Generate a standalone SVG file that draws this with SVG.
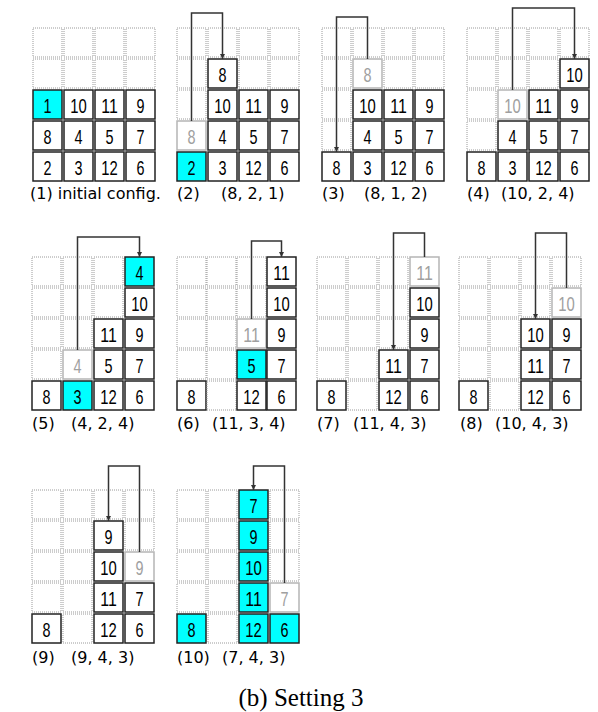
<svg xmlns="http://www.w3.org/2000/svg" width="598" height="712" viewBox="0 0 598 712">
<defs>
<marker id="ah" viewBox="0 0 10 10" refX="10" refY="5" markerWidth="5" markerHeight="6" markerUnits="userSpaceOnUse" orient="auto"><path d="M0,0 L10,5 L0,10 Z" fill="#333"/></marker>
<style>
.d{fill:none;stroke:#9a9a9a;stroke-width:1;stroke-dasharray:1,1}
.c{fill:#fff;stroke:#222;stroke-width:1.5}
.cy{fill:#00ffff;stroke:#222;stroke-width:1.5}
.g{fill:#fff;stroke:#b5b5b5;stroke-width:1.5}
.n{font-family:"Liberation Sans",Arial,sans-serif;font-size:21px;fill:#000;text-anchor:middle}
.ng{font-family:"Liberation Sans",Arial,sans-serif;font-size:21px;fill:#a0a0a0;text-anchor:middle}
.lb{font-family:"DejaVu Sans",sans-serif;font-size:16px;fill:#000}
.cap{font-family:"Liberation Serif","Times New Roman",serif;font-size:25px;fill:#000;text-anchor:middle}
.ar{fill:none;stroke:#333;stroke-width:1.5;marker-end:url(#ah)}
</style>
</defs>
<rect width="598" height="712" fill="#fff"/>

<!-- Panel 1 -->
<g id="p1">
<rect class="d" x="33" y="28" width="29" height="29"/><rect class="d" x="64" y="28" width="29" height="29"/><rect class="d" x="95" y="28" width="29" height="29"/><rect class="d" x="126" y="28" width="29" height="29"/>
<rect class="d" x="33" y="59" width="29" height="29"/><rect class="d" x="64" y="59" width="29" height="29"/><rect class="d" x="95" y="59" width="29" height="29"/><rect class="d" x="126" y="59" width="29" height="29"/>
<rect class="cy" x="33" y="90" width="29" height="29"/><rect class="c" x="64" y="90" width="29" height="29"/><rect class="c" x="95" y="90" width="29" height="29"/><rect class="c" x="126" y="90" width="29" height="29"/>
<rect class="c" x="33" y="121" width="29" height="29"/><rect class="c" x="64" y="121" width="29" height="29"/><rect class="c" x="95" y="121" width="29" height="29"/><rect class="c" x="126" y="121" width="29" height="29"/>
<rect class="c" x="33" y="152" width="29" height="29"/><rect class="c" x="64" y="152" width="29" height="29"/><rect class="c" x="95" y="152" width="29" height="29"/><rect class="c" x="126" y="152" width="29" height="29"/>
<text class="n" x="47.5" y="112.5" textLength="8" lengthAdjust="spacingAndGlyphs">1</text><text class="n" x="78.5" y="112.5" textLength="16.5" lengthAdjust="spacingAndGlyphs">10</text><text class="n" x="109.5" y="112.5" textLength="16.5" lengthAdjust="spacingAndGlyphs">11</text><text class="n" x="140.5" y="112.5" textLength="8" lengthAdjust="spacingAndGlyphs">9</text>
<text class="n" x="47.5" y="143.5" textLength="8" lengthAdjust="spacingAndGlyphs">8</text><text class="n" x="78.5" y="143.5" textLength="8" lengthAdjust="spacingAndGlyphs">4</text><text class="n" x="109.5" y="143.5" textLength="8" lengthAdjust="spacingAndGlyphs">5</text><text class="n" x="140.5" y="143.5" textLength="8" lengthAdjust="spacingAndGlyphs">7</text>
<text class="n" x="47.5" y="174.5" textLength="8" lengthAdjust="spacingAndGlyphs">2</text><text class="n" x="78.5" y="174.5" textLength="8" lengthAdjust="spacingAndGlyphs">3</text><text class="n" x="109.5" y="174.5" textLength="16.5" lengthAdjust="spacingAndGlyphs">12</text><text class="n" x="140.5" y="174.5" textLength="8" lengthAdjust="spacingAndGlyphs">6</text>
<text class="lb" x="30" y="199">(1) initial config.</text>
</g>

<!-- Panel 2 -->
<g id="p2">
<rect class="d" x="177" y="28" width="29" height="29"/><rect class="d" x="208" y="28" width="29" height="29"/><rect class="d" x="239" y="28" width="29" height="29"/><rect class="d" x="270" y="28" width="29" height="29"/>
<rect class="d" x="177" y="59" width="29" height="29"/><rect class="c" x="208" y="59" width="29" height="29"/><rect class="d" x="239" y="59" width="29" height="29"/><rect class="d" x="270" y="59" width="29" height="29"/>
<rect class="d" x="177" y="90" width="29" height="29"/><rect class="c" x="208" y="90" width="29" height="29"/><rect class="c" x="239" y="90" width="29" height="29"/><rect class="c" x="270" y="90" width="29" height="29"/>
<rect class="g" x="177" y="121" width="29" height="29"/><rect class="c" x="208" y="121" width="29" height="29"/><rect class="c" x="239" y="121" width="29" height="29"/><rect class="c" x="270" y="121" width="29" height="29"/>
<rect class="cy" x="177" y="152" width="29" height="29"/><rect class="c" x="208" y="152" width="29" height="29"/><rect class="c" x="239" y="152" width="29" height="29"/><rect class="c" x="270" y="152" width="29" height="29"/>
<text class="n" x="222.5" y="81.5" textLength="8" lengthAdjust="spacingAndGlyphs">8</text>
<text class="n" x="222.5" y="112.5" textLength="16.5" lengthAdjust="spacingAndGlyphs">10</text><text class="n" x="253.5" y="112.5" textLength="16.5" lengthAdjust="spacingAndGlyphs">11</text><text class="n" x="284.5" y="112.5" textLength="8" lengthAdjust="spacingAndGlyphs">9</text>
<text class="ng" x="191.5" y="143.5" textLength="8" lengthAdjust="spacingAndGlyphs">8</text><text class="n" x="222.5" y="143.5" textLength="8" lengthAdjust="spacingAndGlyphs">4</text><text class="n" x="253.5" y="143.5" textLength="8" lengthAdjust="spacingAndGlyphs">5</text><text class="n" x="284.5" y="143.5" textLength="8" lengthAdjust="spacingAndGlyphs">7</text>
<text class="n" x="191.5" y="174.5" textLength="8" lengthAdjust="spacingAndGlyphs">2</text><text class="n" x="222.5" y="174.5" textLength="8" lengthAdjust="spacingAndGlyphs">3</text><text class="n" x="253.5" y="174.5" textLength="16.5" lengthAdjust="spacingAndGlyphs">12</text><text class="n" x="284.5" y="174.5" textLength="8" lengthAdjust="spacingAndGlyphs">6</text>
<text class="lb" x="177" y="199">(2)</text><text class="lb" x="221" y="199">(8, 2, 1)</text>
</g>

<!-- Panel 3 -->
<g id="p3">
<rect class="d" x="322" y="28" width="29" height="29"/><rect class="d" x="353" y="28" width="29" height="29"/><rect class="d" x="384" y="28" width="29" height="29"/><rect class="d" x="415" y="28" width="29" height="29"/>
<rect class="d" x="322" y="59" width="29" height="29"/><rect class="g" x="353" y="59" width="29" height="29"/><rect class="d" x="384" y="59" width="29" height="29"/><rect class="d" x="415" y="59" width="29" height="29"/>
<rect class="d" x="322" y="90" width="29" height="29"/><rect class="c" x="353" y="90" width="29" height="29"/><rect class="c" x="384" y="90" width="29" height="29"/><rect class="c" x="415" y="90" width="29" height="29"/>
<rect class="d" x="322" y="121" width="29" height="29"/><rect class="c" x="353" y="121" width="29" height="29"/><rect class="c" x="384" y="121" width="29" height="29"/><rect class="c" x="415" y="121" width="29" height="29"/>
<rect class="c" x="322" y="152" width="29" height="29"/><rect class="c" x="353" y="152" width="29" height="29"/><rect class="c" x="384" y="152" width="29" height="29"/><rect class="c" x="415" y="152" width="29" height="29"/>
<text class="ng" x="367.5" y="81.5" textLength="8" lengthAdjust="spacingAndGlyphs">8</text>
<text class="n" x="367.5" y="112.5" textLength="16.5" lengthAdjust="spacingAndGlyphs">10</text><text class="n" x="398.5" y="112.5" textLength="16.5" lengthAdjust="spacingAndGlyphs">11</text><text class="n" x="429.5" y="112.5" textLength="8" lengthAdjust="spacingAndGlyphs">9</text>
<text class="n" x="367.5" y="143.5" textLength="8" lengthAdjust="spacingAndGlyphs">4</text><text class="n" x="398.5" y="143.5" textLength="8" lengthAdjust="spacingAndGlyphs">5</text><text class="n" x="429.5" y="143.5" textLength="8" lengthAdjust="spacingAndGlyphs">7</text>
<text class="n" x="336.5" y="174.5" textLength="8" lengthAdjust="spacingAndGlyphs">8</text><text class="n" x="367.5" y="174.5" textLength="8" lengthAdjust="spacingAndGlyphs">3</text><text class="n" x="398.5" y="174.5" textLength="16.5" lengthAdjust="spacingAndGlyphs">12</text><text class="n" x="429.5" y="174.5" textLength="8" lengthAdjust="spacingAndGlyphs">6</text>
<text class="lb" x="322" y="199">(3)</text><text class="lb" x="364" y="199">(8, 1, 2)</text>
</g>

<!-- Panel 4 -->
<g id="p4">
<rect class="d" x="467" y="28" width="29" height="29"/><rect class="d" x="498" y="28" width="29" height="29"/><rect class="d" x="529" y="28" width="29" height="29"/><rect class="d" x="560" y="28" width="29" height="29"/>
<rect class="d" x="467" y="59" width="29" height="29"/><rect class="d" x="498" y="59" width="29" height="29"/><rect class="d" x="529" y="59" width="29" height="29"/><rect class="c" x="560" y="59" width="29" height="29"/>
<rect class="d" x="467" y="90" width="29" height="29"/><rect class="g" x="498" y="90" width="29" height="29"/><rect class="c" x="529" y="90" width="29" height="29"/><rect class="c" x="560" y="90" width="29" height="29"/>
<rect class="d" x="467" y="121" width="29" height="29"/><rect class="c" x="498" y="121" width="29" height="29"/><rect class="c" x="529" y="121" width="29" height="29"/><rect class="c" x="560" y="121" width="29" height="29"/>
<rect class="c" x="467" y="152" width="29" height="29"/><rect class="c" x="498" y="152" width="29" height="29"/><rect class="c" x="529" y="152" width="29" height="29"/><rect class="c" x="560" y="152" width="29" height="29"/>
<text class="n" x="574.5" y="81.5" textLength="16.5" lengthAdjust="spacingAndGlyphs">10</text>
<text class="ng" x="512.5" y="112.5" textLength="16.5" lengthAdjust="spacingAndGlyphs">10</text><text class="n" x="543.5" y="112.5" textLength="16.5" lengthAdjust="spacingAndGlyphs">11</text><text class="n" x="574.5" y="112.5" textLength="8" lengthAdjust="spacingAndGlyphs">9</text>
<text class="n" x="512.5" y="143.5" textLength="8" lengthAdjust="spacingAndGlyphs">4</text><text class="n" x="543.5" y="143.5" textLength="8" lengthAdjust="spacingAndGlyphs">5</text><text class="n" x="574.5" y="143.5" textLength="8" lengthAdjust="spacingAndGlyphs">7</text>
<text class="n" x="481.5" y="174.5" textLength="8" lengthAdjust="spacingAndGlyphs">8</text><text class="n" x="512.5" y="174.5" textLength="8" lengthAdjust="spacingAndGlyphs">3</text><text class="n" x="543.5" y="174.5" textLength="16.5" lengthAdjust="spacingAndGlyphs">12</text><text class="n" x="574.5" y="174.5" textLength="8" lengthAdjust="spacingAndGlyphs">6</text>
<text class="lb" x="467" y="199">(4)</text><text class="lb" x="501" y="199">(10, 2, 4)</text>
</g>

<!-- Panel 5 -->
<g id="p5">
<rect class="d" x="32" y="257" width="29" height="29"/><rect class="d" x="63" y="257" width="29" height="29"/><rect class="d" x="94" y="257" width="29" height="29"/><rect class="cy" x="125" y="257" width="29" height="29"/>
<rect class="d" x="32" y="288" width="29" height="29"/><rect class="d" x="63" y="288" width="29" height="29"/><rect class="d" x="94" y="288" width="29" height="29"/><rect class="c" x="125" y="288" width="29" height="29"/>
<rect class="d" x="32" y="319" width="29" height="29"/><rect class="d" x="63" y="319" width="29" height="29"/><rect class="c" x="94" y="319" width="29" height="29"/><rect class="c" x="125" y="319" width="29" height="29"/>
<rect class="d" x="32" y="350" width="29" height="29"/><rect class="g" x="63" y="350" width="29" height="29"/><rect class="c" x="94" y="350" width="29" height="29"/><rect class="c" x="125" y="350" width="29" height="29"/>
<rect class="c" x="32" y="381" width="29" height="29"/><rect class="cy" x="63" y="381" width="29" height="29"/><rect class="c" x="94" y="381" width="29" height="29"/><rect class="c" x="125" y="381" width="29" height="29"/>
<text class="n" x="139.5" y="279.5" textLength="8" lengthAdjust="spacingAndGlyphs">4</text>
<text class="n" x="139.5" y="310.5" textLength="16.5" lengthAdjust="spacingAndGlyphs">10</text>
<text class="n" x="108.5" y="341.5" textLength="16.5" lengthAdjust="spacingAndGlyphs">11</text><text class="n" x="139.5" y="341.5" textLength="8" lengthAdjust="spacingAndGlyphs">9</text>
<text class="ng" x="77.5" y="372.5" textLength="8" lengthAdjust="spacingAndGlyphs">4</text><text class="n" x="108.5" y="372.5" textLength="8" lengthAdjust="spacingAndGlyphs">5</text><text class="n" x="139.5" y="372.5" textLength="8" lengthAdjust="spacingAndGlyphs">7</text>
<text class="n" x="46.5" y="403.5" textLength="8" lengthAdjust="spacingAndGlyphs">8</text><text class="n" x="77.5" y="403.5" textLength="8" lengthAdjust="spacingAndGlyphs">3</text><text class="n" x="108.5" y="403.5" textLength="16.5" lengthAdjust="spacingAndGlyphs">12</text><text class="n" x="139.5" y="403.5" textLength="8" lengthAdjust="spacingAndGlyphs">6</text>
<text class="lb" x="32" y="429">(5)</text><text class="lb" x="71" y="429">(4, 2, 4)</text>
</g>

<!-- Panel 6 -->
<g id="p6">
<rect class="d" x="177" y="257" width="29" height="29"/><rect class="d" x="207" y="257" width="29" height="29"/><rect class="d" x="237" y="257" width="29" height="29"/><rect class="c" x="267" y="257" width="29" height="29"/>
<rect class="d" x="177" y="288" width="29" height="29"/><rect class="d" x="207" y="288" width="29" height="29"/><rect class="d" x="237" y="288" width="29" height="29"/><rect class="c" x="267" y="288" width="29" height="29"/>
<rect class="d" x="177" y="319" width="29" height="29"/><rect class="d" x="207" y="319" width="29" height="29"/><rect class="g" x="237" y="319" width="29" height="29"/><rect class="c" x="267" y="319" width="29" height="29"/>
<rect class="d" x="177" y="350" width="29" height="29"/><rect class="d" x="207" y="350" width="29" height="29"/><rect class="cy" x="237" y="350" width="29" height="29"/><rect class="c" x="267" y="350" width="29" height="29"/>
<rect class="c" x="177" y="381" width="29" height="29"/><rect class="d" x="207" y="381" width="29" height="29"/><rect class="c" x="237" y="381" width="29" height="29"/><rect class="c" x="267" y="381" width="29" height="29"/>
<text class="n" x="281.5" y="279.5" textLength="16.5" lengthAdjust="spacingAndGlyphs">11</text>
<text class="n" x="281.5" y="310.5" textLength="16.5" lengthAdjust="spacingAndGlyphs">10</text>
<text class="ng" x="251.5" y="341.5" textLength="16.5" lengthAdjust="spacingAndGlyphs">11</text><text class="n" x="281.5" y="341.5" textLength="8" lengthAdjust="spacingAndGlyphs">9</text>
<text class="n" x="251.5" y="372.5" textLength="8" lengthAdjust="spacingAndGlyphs">5</text><text class="n" x="281.5" y="372.5" textLength="8" lengthAdjust="spacingAndGlyphs">7</text>
<text class="n" x="191.5" y="403.5" textLength="8" lengthAdjust="spacingAndGlyphs">8</text><text class="n" x="251.5" y="403.5" textLength="16.5" lengthAdjust="spacingAndGlyphs">12</text><text class="n" x="281.5" y="403.5" textLength="8" lengthAdjust="spacingAndGlyphs">6</text>
<text class="lb" x="177" y="429">(6)</text><text class="lb" x="212" y="429">(11, 3, 4)</text>
</g>

<!-- Panel 7 -->
<g id="p7">
<rect class="d" x="317" y="257" width="29" height="29"/><rect class="d" x="348" y="257" width="29" height="29"/><rect class="d" x="379" y="257" width="29" height="29"/><rect class="g" x="410" y="257" width="29" height="29"/>
<rect class="d" x="317" y="288" width="29" height="29"/><rect class="d" x="348" y="288" width="29" height="29"/><rect class="d" x="379" y="288" width="29" height="29"/><rect class="c" x="410" y="288" width="29" height="29"/>
<rect class="d" x="317" y="319" width="29" height="29"/><rect class="d" x="348" y="319" width="29" height="29"/><rect class="d" x="379" y="319" width="29" height="29"/><rect class="c" x="410" y="319" width="29" height="29"/>
<rect class="d" x="317" y="350" width="29" height="29"/><rect class="d" x="348" y="350" width="29" height="29"/><rect class="c" x="379" y="350" width="29" height="29"/><rect class="c" x="410" y="350" width="29" height="29"/>
<rect class="c" x="317" y="381" width="29" height="29"/><rect class="d" x="348" y="381" width="29" height="29"/><rect class="c" x="379" y="381" width="29" height="29"/><rect class="c" x="410" y="381" width="29" height="29"/>
<text class="ng" x="424.5" y="279.5" textLength="16.5" lengthAdjust="spacingAndGlyphs">11</text>
<text class="n" x="424.5" y="310.5" textLength="16.5" lengthAdjust="spacingAndGlyphs">10</text>
<text class="n" x="424.5" y="341.5" textLength="8" lengthAdjust="spacingAndGlyphs">9</text>
<text class="n" x="393.5" y="372.5" textLength="16.5" lengthAdjust="spacingAndGlyphs">11</text><text class="n" x="424.5" y="372.5" textLength="8" lengthAdjust="spacingAndGlyphs">7</text>
<text class="n" x="331.5" y="403.5" textLength="8" lengthAdjust="spacingAndGlyphs">8</text><text class="n" x="393.5" y="403.5" textLength="16.5" lengthAdjust="spacingAndGlyphs">12</text><text class="n" x="424.5" y="403.5" textLength="8" lengthAdjust="spacingAndGlyphs">6</text>
<text class="lb" x="317" y="429">(7)</text><text class="lb" x="353" y="429">(11, 4, 3)</text>
</g>

<!-- Panel 8 -->
<g id="p8">
<rect class="d" x="459" y="257" width="29" height="29"/><rect class="d" x="490" y="257" width="29" height="29"/><rect class="d" x="521" y="257" width="29" height="29"/><rect class="d" x="552" y="257" width="29" height="29"/>
<rect class="d" x="459" y="288" width="29" height="29"/><rect class="d" x="490" y="288" width="29" height="29"/><rect class="d" x="521" y="288" width="29" height="29"/><rect class="g" x="552" y="288" width="29" height="29"/>
<rect class="d" x="459" y="319" width="29" height="29"/><rect class="d" x="490" y="319" width="29" height="29"/><rect class="c" x="521" y="319" width="29" height="29"/><rect class="c" x="552" y="319" width="29" height="29"/>
<rect class="d" x="459" y="350" width="29" height="29"/><rect class="d" x="490" y="350" width="29" height="29"/><rect class="c" x="521" y="350" width="29" height="29"/><rect class="c" x="552" y="350" width="29" height="29"/>
<rect class="c" x="459" y="381" width="29" height="29"/><rect class="d" x="490" y="381" width="29" height="29"/><rect class="c" x="521" y="381" width="29" height="29"/><rect class="c" x="552" y="381" width="29" height="29"/>
<text class="ng" x="566.5" y="310.5" textLength="16.5" lengthAdjust="spacingAndGlyphs">10</text>
<text class="n" x="535.5" y="341.5" textLength="16.5" lengthAdjust="spacingAndGlyphs">10</text><text class="n" x="566.5" y="341.5" textLength="8" lengthAdjust="spacingAndGlyphs">9</text>
<text class="n" x="535.5" y="372.5" textLength="16.5" lengthAdjust="spacingAndGlyphs">11</text><text class="n" x="566.5" y="372.5" textLength="8" lengthAdjust="spacingAndGlyphs">7</text>
<text class="n" x="473.5" y="403.5" textLength="8" lengthAdjust="spacingAndGlyphs">8</text><text class="n" x="535.5" y="403.5" textLength="16.5" lengthAdjust="spacingAndGlyphs">12</text><text class="n" x="566.5" y="403.5" textLength="8" lengthAdjust="spacingAndGlyphs">6</text>
<text class="lb" x="460" y="429">(8)</text><text class="lb" x="495" y="429">(10, 4, 3)</text>
</g>

<!-- Panel 9 -->
<g id="p9">
<rect class="d" x="32" y="490" width="29" height="29"/><rect class="d" x="63" y="490" width="29" height="29"/><rect class="d" x="94" y="490" width="29" height="29"/><rect class="d" x="125" y="490" width="29" height="29"/>
<rect class="d" x="32" y="521" width="29" height="29"/><rect class="d" x="63" y="521" width="29" height="29"/><rect class="c" x="94" y="521" width="29" height="29"/><rect class="d" x="125" y="521" width="29" height="29"/>
<rect class="d" x="32" y="552" width="29" height="29"/><rect class="d" x="63" y="552" width="29" height="29"/><rect class="c" x="94" y="552" width="29" height="29"/><rect class="g" x="125" y="552" width="29" height="29"/>
<rect class="d" x="32" y="583" width="29" height="29"/><rect class="d" x="63" y="583" width="29" height="29"/><rect class="c" x="94" y="583" width="29" height="29"/><rect class="c" x="125" y="583" width="29" height="29"/>
<rect class="c" x="32" y="614" width="29" height="29"/><rect class="d" x="63" y="614" width="29" height="29"/><rect class="c" x="94" y="614" width="29" height="29"/><rect class="c" x="125" y="614" width="29" height="29"/>
<text class="n" x="108.5" y="543.5" textLength="8" lengthAdjust="spacingAndGlyphs">9</text>
<text class="n" x="108.5" y="574.5" textLength="16.5" lengthAdjust="spacingAndGlyphs">10</text><text class="ng" x="139.5" y="574.5" textLength="8" lengthAdjust="spacingAndGlyphs">9</text>
<text class="n" x="108.5" y="605.5" textLength="16.5" lengthAdjust="spacingAndGlyphs">11</text><text class="n" x="139.5" y="605.5" textLength="8" lengthAdjust="spacingAndGlyphs">7</text>
<text class="n" x="46.5" y="636.5" textLength="8" lengthAdjust="spacingAndGlyphs">8</text><text class="n" x="108.5" y="636.5" textLength="16.5" lengthAdjust="spacingAndGlyphs">12</text><text class="n" x="139.5" y="636.5" textLength="8" lengthAdjust="spacingAndGlyphs">6</text>
<text class="lb" x="32" y="663">(9)</text><text class="lb" x="71" y="663">(9, 4, 3)</text>
</g>

<!-- Panel 10 -->
<g id="p10">
<rect class="d" x="177" y="490" width="29" height="29"/><rect class="d" x="208" y="490" width="29" height="29"/><rect class="cy" x="239" y="490" width="29" height="29"/><rect class="d" x="270" y="490" width="29" height="29"/>
<rect class="d" x="177" y="521" width="29" height="29"/><rect class="d" x="208" y="521" width="29" height="29"/><rect class="cy" x="239" y="521" width="29" height="29"/><rect class="d" x="270" y="521" width="29" height="29"/>
<rect class="d" x="177" y="552" width="29" height="29"/><rect class="d" x="208" y="552" width="29" height="29"/><rect class="cy" x="239" y="552" width="29" height="29"/><rect class="d" x="270" y="552" width="29" height="29"/>
<rect class="d" x="177" y="583" width="29" height="29"/><rect class="d" x="208" y="583" width="29" height="29"/><rect class="cy" x="239" y="583" width="29" height="29"/><rect class="g" x="270" y="583" width="29" height="29"/>
<rect class="cy" x="177" y="614" width="29" height="29"/><rect class="d" x="208" y="614" width="29" height="29"/><rect class="cy" x="239" y="614" width="29" height="29"/><rect class="cy" x="270" y="614" width="29" height="29"/>
<text class="n" x="253.5" y="512.5" textLength="8" lengthAdjust="spacingAndGlyphs">7</text>
<text class="n" x="253.5" y="543.5" textLength="8" lengthAdjust="spacingAndGlyphs">9</text>
<text class="n" x="253.5" y="574.5" textLength="16.5" lengthAdjust="spacingAndGlyphs">10</text>
<text class="n" x="253.5" y="605.5" textLength="16.5" lengthAdjust="spacingAndGlyphs">11</text><text class="ng" x="284.5" y="605.5" textLength="8" lengthAdjust="spacingAndGlyphs">7</text>
<text class="n" x="191.5" y="636.5" textLength="8" lengthAdjust="spacingAndGlyphs">8</text><text class="n" x="253.5" y="636.5" textLength="16.5" lengthAdjust="spacingAndGlyphs">12</text><text class="n" x="284.5" y="636.5" textLength="8" lengthAdjust="spacingAndGlyphs">6</text>
<text class="lb" x="177" y="663">(10)</text><text class="lb" x="222" y="663">(7, 4, 3)</text>
</g>

<g id="connectors">
<path class="ar" d="M191.5,121 V13 H222.5 V59"/>
<path class="ar" d="M367.5,59 V17 H336.5 V152"/>
<path class="ar" d="M512.5,90 V8 H574.5 V59"/>
<path class="ar" d="M77.5,350 V237 H139.5 V257"/>
<path class="ar" d="M251.5,319 V241 H281.5 V257"/>
<path class="ar" d="M424.5,257 V233 H393.5 V350"/>
<path class="ar" d="M566.5,288 V233 H535.5 V319"/>
<path class="ar" d="M139.5,552 V466 H108.5 V521"/>
<path class="ar" d="M284.5,583 V466 H253.5 V490"/>
</g>

<text id="caption" class="cap" x="301" y="706">(b) Setting 3</text>
</svg>
